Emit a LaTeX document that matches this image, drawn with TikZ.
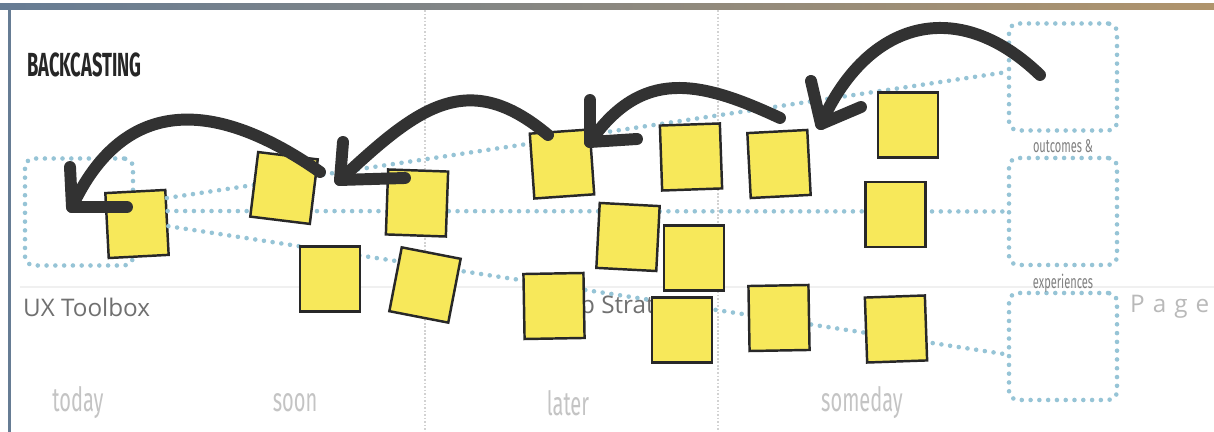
\documentclass[tikz,border=0pt]{standalone}
\usepackage{fontspec}
\setmainfont{Open Sans}
\newfontfamily\condfont[FakeStretch=0.6]{Fira Sans}
\newfontfamily\titlefont[FakeStretch=0.55]{Fira Sans}
\newfontfamily\spacedfont[LetterSpace=33]{Open Sans}
\usepackage{tikz}
\usetikzlibrary{positioning}
\definecolor{stickyyellow}{RGB}{247,232,90}
\definecolor{stickyedge}{RGB}{40,40,40}
\definecolor{markerink}{RGB}{50,50,50}
\definecolor{dotblue}{RGB}{150,196,214}
\definecolor{framegray}{RGB}{102,124,148}
\definecolor{bandtan}{RGB}{176,148,108}
\definecolor{labelgray}{RGB}{112,112,112}
\definecolor{palegray}{RGB}{196,196,196}
\tikzset{
  sticky/.style={draw=stickyedge, fill=stickyyellow, line width=1.4pt,
    minimum width=1.2cm, minimum height=1.3cm, inner sep=0pt},
  dotbox/.style={draw=dotblue, line width=2.6pt, dash pattern=on 0pt off 5pt,
    line cap=round, rounded corners=0.18cm, minimum width=2.16cm, minimum height=2.14cm},
  dotline/.style={draw=dotblue, line width=2.6pt, dash pattern=on 0pt off 5pt, line cap=round},
  marker/.style={draw=markerink, line width=6.8pt, line cap=round, line join=round},
  timelabel/.style={text=palegray, font=\condfont\fontsize{19}{19}\selectfont},
  boxcaption/.style={text=gray, inner sep=0pt, font=\condfont\fontsize{10.5}{10.5}\selectfont},
}

\begin{document}
\begin{tikzpicture}
  \useasboundingbox (0,0) rectangle (24.28,8.64);
  \fill[white] (0,0) rectangle (24.28,8.64);
  % frame
  \shade[left color=framegray, middle color=gray!75, right color=bandtan] (0,8.44) rectangle (24.28,8.56);
  \draw[framegray, line width=1.8pt] (0.19,8.44) -- (0.19,0);
  \draw[gray!35, line width=0.6pt, dash pattern=on 1pt off 1pt] (8.5,8.44) -- (8.5,0);
  \draw[gray!35, line width=0.6pt, dash pattern=on 1pt off 1pt] (14.36,8.44) -- (14.36,0);
  \draw[gray!12, line width=0.8pt] (0.4,2.9) -- (24.28,2.9);

  \node[anchor=west, text=black!85, font=\titlefont\bfseries\fontsize{19}{19}\selectfont] (title) at (0.42,7.34) {BACKCASTING};
  \node[anchor=west, text=labelgray, font=\fontsize{13.8}{13.8}\selectfont] (toolbox) at (0.34,2.5) {UX Toolbox};
  \node[anchor=west, text=labelgray, font=\fontsize{13.8}{13.8}\selectfont] (strat) at (11.48,2.48) {p Strat};
  \node[anchor=west, text=gray!55, font=\spacedfont\fontsize{13.8}{13.8}\selectfont] (page) at (22.48,2.5) {Page};

  \node[timelabel] (today) at (1.56,0.58) {today};
  \node[timelabel] (soon) at (5.9,0.58) {soon};
  \node[timelabel] (later) at (11.36,0.58) {later};
  \node[timelabel] (someday) at (17.24,0.58) {someday};

  % dotted frames
  \node[dotbox] (now) at (1.58,4.4) {};
  \node[dotbox] (goalA) at (21.26,7.1) {};
  \node[dotbox] (goalB) at (21.26,4.41) {};
  \node[dotbox] (goalC) at (21.26,1.71) {};
  \node[boxcaption, below=0.12cm of goalA] (capA) {outcomes \&};
  \node[boxcaption, below=0.12cm of goalB] (capB) {experiences};

  % sticky notes
  \node[sticky, rotate=3] (s1) at (2.74,4.16) {};
  \draw[dotline] (s1.38) -- (goalA.175);
  \draw[dotline] (s1.20) -- (goalB.west);
  \draw[dotline] (s1.-7) -- (goalC.188);
  \node[sticky, rotate=-7] (s2) at (5.68,4.88) {};
  \node[sticky] (s3) at (6.6,3.06) {};
  \node[sticky, rotate=-2] (s4) at (8.34,4.58) {};
  \node[sticky, rotate=-11] (s5) at (8.5,2.94) {};
  \node[sticky, rotate=4] (s6) at (11.24,5.36) {};
  \node[sticky, rotate=2] (s7) at (13.82,5.5) {};
  \node[sticky, rotate=3] (s8) at (15.58,5.36) {};
  \node[sticky] (s9) at (18.16,6.14) {};
  \node[sticky, rotate=-3] (s10) at (12.56,3.9) {};
  \node[sticky] (s11) at (13.88,3.48) {};
  \node[sticky, rotate=1] (s12) at (11.08,2.52) {};
  \node[sticky] (s13) at (13.64,2.04) {};
  \node[sticky, rotate=1] (s14) at (15.58,2.28) {};
  \node[sticky] (s15) at (17.91,4.35) {};
  \node[sticky, rotate=2] (s16) at (17.92,2.06) {};

  % marker arrows
  \coordinate (tail1) at (20.8,7.14);
  \coordinate (head1) at (16.42,6.16);
  \draw[marker] (tail1) to[out=136, in=66, looseness=1.3] (head1);
  \draw[marker] ([shift={(-0.2,0.86)}]head1) -- (head1) -- ([shift={(0.8,0.34)}]head1);

  \coordinate (tail2) at (15.6,6.28);
  \coordinate (head2) at (11.8,5.8);
  \draw[marker] (tail2) to[out=155, in=55, looseness=1.2] (head2);
  \draw[marker] ([shift={(0,0.84)}]head2) -- (head2) -- ([shift={(0.94,0.06)}]head2);

  \coordinate (tail3) at (10.96,5.94);
  \coordinate (head3) at (6.8,5.04);
  \draw[marker] (tail3) to[out=140, in=43, looseness=1.27] (head3);
  \draw[marker] ([shift={(0.06,0.76)}]head3) -- (head3) -- ([shift={(1.3,0.04)}]head3);

  \coordinate (tail4) at (6.4,5.2);
  \coordinate (head4) at (1.44,4.5);
  \draw[marker] (tail4) to[out=145, in=65, looseness=1.28] (head4);
  \draw[marker] ([shift={(-0.04,0.8)}]head4) -- (head4) -- ([shift={(1.1,0)}]head4);
\end{tikzpicture}
\end{document}
